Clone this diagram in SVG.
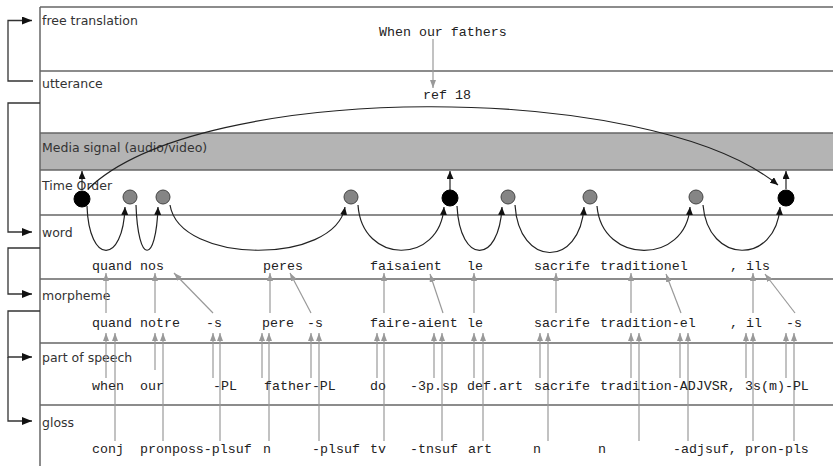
<svg xmlns="http://www.w3.org/2000/svg" width="833" height="466" viewBox="0 0 833 466">
<style>
.lbl{font-family:"DejaVu Sans","Liberation Sans",sans-serif;font-size:12.5px;fill:#333}
.mono{font-family:"Liberation Mono","DejaVu Sans Mono",monospace;font-size:13.3px;fill:#222}
.tier{stroke:#666;stroke-width:1.5;fill:none}
.brk{stroke:#333;stroke-width:1.3;fill:none}
.g{stroke:#999;stroke-width:1.2;fill:none;marker-end:url(#ag)}
.arc{stroke:#222;stroke-width:1.2;fill:none;marker-end:url(#as)}
.grey{fill:#858585;stroke:#444;stroke-width:1}
.blk{fill:#000;stroke:#000;stroke-width:1}
</style>
<defs>
<marker id="ab" viewBox="0 0 10 8" refX="10" refY="4" markerWidth="10" markerHeight="8" markerUnits="userSpaceOnUse" orient="auto"><path d="M0,0 L10,4 L0,8 z" fill="#111"/></marker>
<marker id="ag" viewBox="0 0 8 6" refX="8" refY="3" markerWidth="8" markerHeight="6" markerUnits="userSpaceOnUse" orient="auto"><path d="M0,0 L8,3 L0,6 z" fill="#999"/></marker>
<marker id="as" viewBox="0 0 8 7" refX="8" refY="3.5" markerWidth="8" markerHeight="7" markerUnits="userSpaceOnUse" orient="auto"><path d="M0,0 L8,3.5 L0,7 z" fill="#111"/></marker>
</defs>
<rect width="833" height="466" fill="#fff"/>

<g id="tiers">
<rect x="40" y="133" width="793" height="37" fill="#b4b4b4"/>
<line class="tier" x1="40" y1="7" x2="833" y2="7"/>
<line class="tier" x1="40" y1="71" x2="833" y2="71"/>
<line class="tier" x1="40" y1="133" x2="833" y2="133"/>
<line class="tier" x1="40" y1="170" x2="833" y2="170"/>
<line class="tier" x1="40" y1="215" x2="833" y2="215"/>
<line class="tier" x1="40" y1="279" x2="833" y2="279"/>
<line class="tier" x1="40" y1="343" x2="833" y2="343"/>
<line class="tier" x1="40" y1="405" x2="833" y2="405"/>
<line class="tier" x1="40" y1="7" x2="40" y2="466"/>
<text class="lbl" x="42" y="25">free translation</text>
<text class="lbl" x="42" y="88">utterance</text>
<text class="lbl" x="42" y="152">Media signal (audio/video)</text>
<text class="lbl" x="42" y="190">Time Order</text>
<text class="lbl" x="42" y="237">word</text>
<text class="lbl" x="42" y="300">morpheme</text>
<text class="lbl" x="42" y="362">part of speech</text>
<text class="lbl" x="42" y="427">gloss</text>
</g>

<g id="brackets">
<path class="brk" d="M33,81 H8 V20.5 H32" marker-end="url(#ab)"/>
<path class="brk" d="M40,103 H8 V232 H32" marker-end="url(#ab)"/>
<path class="brk" d="M40,248 H8 V294 H32" marker-end="url(#ab)"/>
<path class="brk" d="M40,311 H8 V357 H32" marker-end="url(#ab)"/>
<path class="brk" d="M8,357 V421 H32" marker-end="url(#ab)"/>
</g>

<g id="connectors">
<line class="g" x1="433" y1="39" x2="433" y2="88"/>
<path class="arc" d="M88,189 C200,80 650,80 778,185"/>
<line class="arc" x1="82" y1="190" x2="82" y2="171"/>
<line class="arc" x1="450" y1="190" x2="450" y2="171"/>
<line class="arc" x1="786" y1="189" x2="786" y2="171"/>
<path class="arc" d="M87,206 C89,265 123,265 125,207"/>
<path class="arc" d="M136,205 C138,265 156,265 158,207"/>
<path class="arc" d="M170,205 C180,265 335,265 345,207"/>
<path class="arc" d="M358,205 C362,265 440,265 444,207"/>
<path class="arc" d="M457,206 C460,265 499,265 502,207"/>
<path class="arc" d="M515,205 C519,268 580,268 584,207"/>
<path class="arc" d="M597,206 C602,265 686,265 690,207"/>
<path class="arc" d="M703,205 C708,265 776,265 780,207"/>

<line class="g" x1="106" y1="313" x2="106" y2="273"/>
<line class="g" x1="155" y1="313" x2="155" y2="273"/>
<line class="g" x1="213" y1="313" x2="174" y2="273"/>
<line class="g" x1="270" y1="313" x2="270" y2="273"/>
<line class="g" x1="311" y1="313" x2="290" y2="273"/>
<line class="g" x1="384" y1="313" x2="384" y2="273"/>
<line class="g" x1="443" y1="313" x2="430" y2="274"/>
<line class="g" x1="474" y1="313" x2="474" y2="273"/>
<line class="g" x1="556" y1="313" x2="556" y2="273"/>
<line class="g" x1="631" y1="313" x2="631" y2="273"/>
<line class="g" x1="681" y1="313" x2="666" y2="274"/>
<line class="g" x1="753" y1="313" x2="753" y2="273"/>
<line class="g" x1="795" y1="313" x2="765" y2="274"/>

<line class="g" x1="106" y1="378" x2="106" y2="333"/>
<line class="g" x1="115" y1="441" x2="115" y2="333"/>
<line class="g" x1="155" y1="370" x2="155" y2="333"/>
<line class="g" x1="163" y1="441" x2="163" y2="333"/>
<line class="g" x1="213" y1="378" x2="213" y2="333"/>
<line class="g" x1="220" y1="441" x2="220" y2="333"/>
<line class="g" x1="262" y1="378" x2="262" y2="333"/>
<line class="g" x1="269" y1="441" x2="269" y2="333"/>
<line class="g" x1="311" y1="378" x2="311" y2="333"/>
<line class="g" x1="319" y1="441" x2="319" y2="333"/>
<line class="g" x1="377" y1="378" x2="377" y2="333"/>
<line class="g" x1="384" y1="441" x2="384" y2="333"/>
<line class="g" x1="434" y1="378" x2="434" y2="333"/>
<line class="g" x1="442" y1="441" x2="442" y2="333"/>
<line class="g" x1="474" y1="378" x2="474" y2="333"/>
<line class="g" x1="483" y1="441" x2="483" y2="333"/>
<line class="g" x1="540" y1="378" x2="540" y2="333"/>
<line class="g" x1="548" y1="441" x2="548" y2="333"/>
<line class="g" x1="631" y1="378" x2="631" y2="333"/>
<line class="g" x1="639" y1="441" x2="639" y2="333"/>
<line class="g" x1="680" y1="378" x2="680" y2="333"/>
<line class="g" x1="688" y1="441" x2="688" y2="333"/>
<line class="g" x1="746" y1="378" x2="746" y2="333"/>
<line class="g" x1="753" y1="441" x2="753" y2="333"/>
<line class="g" x1="786" y1="378" x2="786" y2="333"/>
<line class="g" x1="794" y1="441" x2="794" y2="333"/>
</g>

<g id="timeslots">
<circle id="ts1" class="blk" cx="82" cy="199" r="8"/>
<circle id="ts2" class="grey" cx="130" cy="197" r="7"/>
<circle id="ts3" class="grey" cx="163" cy="197" r="7"/>
<circle id="ts4" class="grey" cx="351" cy="197" r="7"/>
<circle id="ts5" class="blk" cx="450" cy="198" r="8"/>
<circle id="ts6" class="grey" cx="508" cy="197" r="7"/>
<circle id="ts7" class="grey" cx="590" cy="197" r="7"/>
<circle id="ts8" class="grey" cx="696" cy="197" r="7"/>
<circle id="ts9" class="blk" cx="786" cy="198" r="8"/>
</g>

<g id="free-translation"><text class="mono" x="379" y="36">When our fathers</text></g>
<g id="utterance"><text class="mono" x="423" y="99">ref 18</text></g>

<g id="words">
<text class="mono" x="92" y="270">quand</text>
<text class="mono" x="140" y="270">nos</text>
<text class="mono" x="263" y="270">peres</text>
<text class="mono" x="370" y="270">faisaient</text>
<text class="mono" x="467" y="270">le</text>
<text class="mono" x="534" y="270">sacrife</text>
<text class="mono" x="600" y="270">traditionel</text>
<text class="mono" x="730" y="270">, ils</text>
</g>

<g id="morphemes">
<text class="mono" x="92" y="327">quand</text>
<text class="mono" x="140" y="327">notre</text>
<text class="mono" x="206" y="327">-s</text>
<text class="mono" x="262" y="327">pere</text>
<text class="mono" x="307" y="327">-s</text>
<text class="mono" x="370" y="327">faire-aient</text>
<text class="mono" x="467" y="327">le</text>
<text class="mono" x="534" y="327">sacrife</text>
<text class="mono" x="600" y="327">tradition-el</text>
<text class="mono" x="730" y="327">, il</text>
<text class="mono" x="786" y="327">-s</text>
</g>

<g id="parts-of-speech">
<text class="mono" x="92" y="390">when</text>
<text class="mono" x="140" y="390">our</text>
<text class="mono" x="213" y="390">-PL</text>
<text class="mono" x="264" y="390">father-PL</text>
<text class="mono" x="370" y="390">do</text>
<text class="mono" x="410" y="390">-3p.sp</text>
<text class="mono" x="467" y="390">def.art</text>
<text class="mono" x="534" y="390">sacrife</text>
<text class="mono" x="600" y="390">tradition-ADJVSR,</text>
<text class="mono" x="745" y="390">3s(m)-PL</text>
</g>

<g id="glosses">
<text class="mono" x="92" y="453">conj</text>
<text class="mono" x="140" y="453">pronposs-plsuf</text>
<text class="mono" x="263" y="453">n</text>
<text class="mono" x="312" y="453">-plsuf</text>
<text class="mono" x="370" y="453">tv</text>
<text class="mono" x="410" y="453">-tnsuf</text>
<text class="mono" x="468" y="453">art</text>
<text class="mono" x="533" y="453">n</text>
<text class="mono" x="598" y="453">n</text>
<text class="mono" x="673" y="453">-adjsuf,</text>
<text class="mono" x="745" y="453">pron-pls</text>
</g>
</svg>
